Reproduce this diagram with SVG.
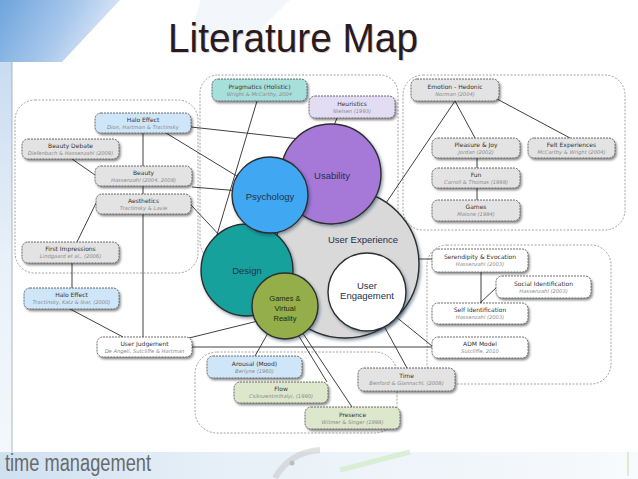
<svg xmlns="http://www.w3.org/2000/svg" width="638" height="479" viewBox="0 0 638 479">
<defs>
<linearGradient id="bgTop" x1="0" y1="0" x2="1" y2="0.3">
<stop offset="0" stop-color="#6ea4dc"/><stop offset="0.6" stop-color="#a9c8ec"/><stop offset="1" stop-color="#dde9f7"/>
</linearGradient>
<linearGradient id="bgLeft" x1="0" y1="0" x2="0" y2="1">
<stop offset="0" stop-color="#c9dcf0"/><stop offset="0.5" stop-color="#e8f0f9"/><stop offset="1" stop-color="#f4f8fc"/>
</linearGradient>
<linearGradient id="bgBot" x1="0" y1="0" x2="1" y2="0">
<stop offset="0" stop-color="#cfe0f0"/><stop offset="0.35" stop-color="#e7f0f8"/><stop offset="1" stop-color="#f8fafc"/>
</linearGradient>
<filter id="sh" x="-20%" y="-30%" width="150%" height="180%">
<feDropShadow dx="1.5" dy="2" stdDeviation="1.2" flood-color="#000" flood-opacity="0.45"/>
</filter>
<filter id="csh" x="-20%" y="-20%" width="150%" height="150%">
<feDropShadow dx="1.5" dy="2" stdDeviation="1.5" flood-color="#1a3550" flood-opacity="0.45"/>
</filter>
<style>
.grp{fill:none;stroke:#8a8a8a;stroke-width:0.8;stroke-dasharray:2 1.5}
.box{stroke:#4a4a4a;stroke-width:0.8;stroke-dasharray:2 1;filter:url(#sh)}
.gray{fill:#e3e3e3}.blue{fill:#cfe6f9}.white{fill:#ffffff}.teal{fill:#a7dfdb}.lav{fill:#e3ddf3}.green{fill:#dde7cc}
.t{font-family:"DejaVu Sans",Verdana,sans-serif;font-size:6px;fill:#333;text-anchor:middle}
.s{font-family:"DejaVu Sans",Verdana,sans-serif;font-size:5.2px;font-style:italic;fill:#8a8a8a;text-anchor:middle}
.c{stroke:#2e2e2e;stroke-width:1.4;filter:url(#csh)}
.cl{font-family:"Liberation Sans",Arial,sans-serif;font-size:9.5px;fill:#26304a;text-anchor:middle}
.gl{font-family:"Liberation Sans",Arial,sans-serif;font-size:7.5px;fill:#1f2a10;text-anchor:middle}
#connectors line{stroke:#2a2a2a;stroke-width:0.9}
</style>
</defs>

<!-- background -->
<rect width="638" height="479" fill="#ffffff"/>
<polygon points="0,0 120,0 62,62 0,62" fill="url(#bgTop)"/>
<polygon points="200,0 290,0 250,40 190,40" fill="#eef4fb" opacity="0.7"/>
<rect x="0" y="62" width="12" height="390" fill="url(#bgLeft)"/>
<line x1="12" y1="62" x2="12" y2="452" stroke="#9aa6b2" stroke-width="0.8"/>
<rect x="0" y="452" width="638" height="27" fill="url(#bgBot)"/>
<path d="M 275 478 Q 290 452 320 450" fill="none" stroke="#c4c4c4" stroke-width="6" opacity="0.5"/>
<circle cx="292" cy="463" r="2.5" fill="#bdbdbd"/>
<path d="M 340 470 L 410 452" fill="none" stroke="#d6ebcc" stroke-width="5" opacity="0.8"/>
<line x1="628" y1="452" x2="628" y2="476" stroke="#cfe6c4" stroke-width="1.5"/>
<text x="5" y="471" font-family="Liberation Sans,Arial,sans-serif" font-size="23" fill="#6a6a6a" textLength="146" lengthAdjust="spacingAndGlyphs">time management</text>

<!-- title -->
<text x="169" y="53" font-family="Liberation Sans,Arial,sans-serif" font-size="41" fill="#b0b0b0" textLength="250" lengthAdjust="spacingAndGlyphs" opacity="0.6">Literature Map</text>
<text x="168" y="52" font-family="Liberation Sans,Arial,sans-serif" font-size="41" fill="#2a1a20" textLength="250" lengthAdjust="spacingAndGlyphs">Literature Map</text>

<!-- group containers -->
<g id="groups">
<rect class="grp" x="15" y="100" width="183" height="173" rx="20"/>
<rect class="grp" x="200" y="75" width="198" height="185" rx="18"/>
<rect class="grp" x="403" y="75" width="222" height="155" rx="20"/>
<rect class="grp" x="427" y="245" width="184" height="139" rx="20"/>
<rect class="grp" x="195" y="352" width="202" height="81" rx="22"/>
</g>

<!-- connectors -->
<g id="connectors">
<line x1="143" y1="133" x2="143" y2="337"/>
<line x1="72" y1="159" x2="95" y2="175"/>
<line x1="96" y1="203" x2="77" y2="242"/>
<line x1="72" y1="263" x2="72" y2="288"/>
<line x1="70" y1="309" x2="123" y2="337"/>
<line x1="191" y1="127" x2="300" y2="139"/>
<line x1="166" y1="133" x2="240" y2="178"/>
<line x1="192" y1="187" x2="240" y2="191"/>
<line x1="191" y1="205" x2="222" y2="238"/>
<line x1="257" y1="101" x2="216" y2="238"/>
<line x1="337" y1="118" x2="333" y2="128"/>
<line x1="455" y1="101" x2="386" y2="203"/>
<line x1="455" y1="101" x2="475" y2="138"/>
<line x1="497" y1="99" x2="570" y2="138"/>
<line x1="477" y1="158" x2="477" y2="168"/>
<line x1="477" y1="188" x2="477" y2="200"/>
<line x1="412" y1="259" x2="432" y2="259"/>
<line x1="481" y1="272" x2="481" y2="303"/>
<line x1="496" y1="288" x2="480" y2="303"/>
<line x1="395" y1="316" x2="432" y2="346"/>
<line x1="192" y1="347" x2="432" y2="347"/>
<line x1="384" y1="326" x2="407" y2="368"/>
<line x1="189" y1="338" x2="258" y2="321"/>
<line x1="268" y1="333" x2="255" y2="356"/>
<line x1="297" y1="333" x2="327" y2="382"/>
<line x1="302" y1="332" x2="352" y2="407"/>
</g>

<!-- circles -->
<g id="c-ux"><circle class="c" cx="345" cy="264" r="74" fill="#d9d9d9"/><text class="cl" x="363" y="243" fill="#333">User Experience</text></g>
<g id="c-usability"><circle class="c" cx="331" cy="174" r="50" fill="#a678d8"/><text class="cl" x="332" y="179">Usability</text></g>
<g id="c-design"><circle class="c" cx="247" cy="270" r="46" fill="#16a19d"/><text class="cl" x="247" y="273.5">Design</text></g>
<g id="c-psychology"><circle class="c" cx="270" cy="195" r="38" fill="#40a8f2"/><text class="cl" x="270" y="200">Psychology</text></g>
<g id="c-engagement"><circle class="c" cx="367" cy="292" r="39" fill="#ffffff"/><text class="cl" x="367" y="289" fill="#333">User</text><text class="cl" x="367" y="299" fill="#333">Engagement</text></g>
<g id="c-games"><circle class="c" cx="285" cy="306" r="33" fill="#94ae4a"/><text class="gl" x="285" y="301">Games &amp;</text><text class="gl" x="285" y="311">Virtual</text><text class="gl" x="285" y="321">Reality</text></g>

<!-- nodes -->
<g id="n-halo1"><rect class="box blue" x="95" y="113" width="96" height="20" rx="6"/><text class="t" x="143" y="121.5">Halo Effect</text><text class="s" x="143" y="128.5">Dion, Hartman &amp; Tractinsky</text></g>
<g id="n-beautydebate"><rect class="box gray" x="22" y="139" width="97" height="20" rx="6"/><text class="t" x="70.5" y="147.5">Beauty Debate</text><text class="s" x="70.5" y="154.5">Diefenbach &amp; Hassenzahl (2009)</text></g>
<g id="n-beauty"><rect class="box gray" x="95" y="166" width="97" height="20" rx="6"/><text class="t" x="143.5" y="174.5">Beauty</text><text class="s" x="143.5" y="181.5">Hassenzahl (2004, 2008)</text></g>
<g id="n-aesthetics"><rect class="box gray" x="96" y="194" width="95" height="20" rx="6"/><text class="t" x="143.5" y="202.5">Aesthetics</text><text class="s" x="143.5" y="209.5">Tractinsky &amp; Lavie</text></g>
<g id="n-firstimpressions"><rect class="box gray" x="22" y="242" width="97" height="21" rx="6"/><text class="t" x="70.5" y="251">First Impressions</text><text class="s" x="70.5" y="258">Lindgaard et al., (2006)</text></g>
<g id="n-halo2"><rect class="box blue" x="24" y="288" width="95" height="21" rx="6"/><text class="t" x="71.5" y="297">Halo Effect</text><text class="s" x="71.5" y="304">Tractinsky, Katz &amp; Ikar, (2000)</text></g>
<g id="n-userjudgement"><rect class="box white" x="97" y="337" width="95" height="20" rx="6"/><text class="t" x="144.5" y="345.5">User Judgement</text><text class="s" x="144.5" y="352.5">De Angeli, Sutcliffe &amp; Hartman</text></g>
<g id="n-pragmatics"><rect class="box teal" x="212" y="79" width="95" height="22" rx="6"/><text class="t" x="259.5" y="88.5">Pragmatics (Holistic)</text><text class="s" x="259.5" y="95.5">Wright &amp; McCarthy, 2004</text></g>
<g id="n-heuristics"><rect class="box lav" x="309" y="96" width="86" height="22" rx="6"/><text class="t" x="352" y="105.5">Heuristics</text><text class="s" x="352" y="112.5">Nielsen (1993)</text></g>
<g id="n-emotion"><rect class="box gray" x="411" y="79" width="88" height="22" rx="6"/><text class="t" x="455" y="88.5">Emotion - Hedonic</text><text class="s" x="455" y="95.5">Norman (2004)</text></g>
<g id="n-pleasure"><rect class="box gray" x="432" y="138" width="88" height="20" rx="6"/><text class="t" x="476" y="146.5">Pleasure &amp; Joy</text><text class="s" x="476" y="153.5">Jordan (2002)</text></g>
<g id="n-felt"><rect class="box gray" x="528" y="138" width="87" height="20" rx="6"/><text class="t" x="571.5" y="146.5">Felt Experiences</text><text class="s" x="571.5" y="153.5">McCarthy &amp; Wright (2004)</text></g>
<g id="n-fun"><rect class="box gray" x="432" y="168" width="88" height="20" rx="6"/><text class="t" x="476" y="176.5">Fun</text><text class="s" x="476" y="183.5">Carroll &amp; Thomas (1988)</text></g>
<g id="n-games"><rect class="box gray" x="432" y="200" width="88" height="21" rx="6"/><text class="t" x="476" y="209">Games</text><text class="s" x="476" y="216">Malone (1984)</text></g>
<g id="n-serendipity"><rect class="box white" x="432" y="249" width="96" height="23" rx="6"/><text class="t" x="480" y="258.5">Serendipity &amp; Evocation</text><text class="s" x="480" y="266">Hassenzahl (2003)</text></g>
<g id="n-social"><rect class="box white" x="496" y="276" width="95" height="22" rx="6"/><text class="t" x="543.5" y="285.5">Social Identification</text><text class="s" x="543.5" y="292.5">Hassenzahl (2003)</text></g>
<g id="n-self"><rect class="box white" x="432" y="303" width="96" height="21" rx="6"/><text class="t" x="480" y="312">Self Identification</text><text class="s" x="480" y="319">Hassenzahl (2003)</text></g>
<g id="n-adm"><rect class="box white" x="432" y="337" width="96" height="21" rx="6"/><text class="t" x="480" y="346">ADM Model</text><text class="s" x="480" y="353">Sutcliffe, 2010</text></g>
<g id="n-time"><rect class="box gray" x="358" y="368" width="97" height="23" rx="6"/><text class="t" x="406.5" y="377.5">Time</text><text class="s" x="406.5" y="385">Benford &amp; Giannachi, (2008)</text></g>
<g id="n-arousal"><rect class="box blue" x="207" y="356" width="95" height="22" rx="6"/><text class="t" x="254.5" y="365.5">Arousal (Mood)</text><text class="s" x="254.5" y="372.5">Berlyne (1960)</text></g>
<g id="n-flow"><rect class="box green" x="234" y="382" width="94" height="21" rx="6"/><text class="t" x="281" y="391">Flow</text><text class="s" x="281" y="398">Csikszentmihalyi, (1990)</text></g>
<g id="n-presence"><rect class="box green" x="305" y="407" width="95" height="22" rx="6"/><text class="t" x="352.5" y="416.5">Presence</text><text class="s" x="352.5" y="423.5">Witmer &amp; Singer (1998)</text></g>
</svg>
